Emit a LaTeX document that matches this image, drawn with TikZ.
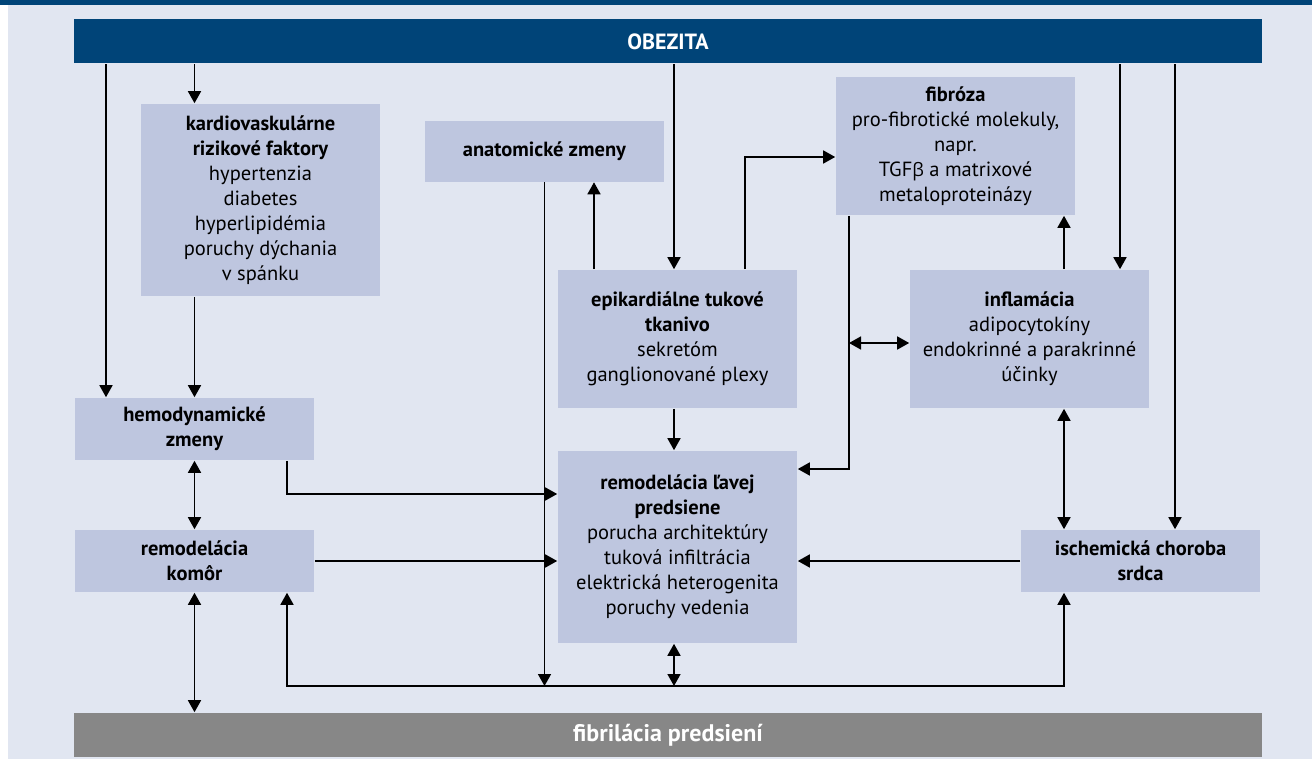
\documentclass[tikz,border=0pt]{standalone}
\usepackage{fontspec}
\setmainfont{PT Sans}
\newfontfamily\grfont{Open Sans}
\usepackage{tikz}
\usetikzlibrary{arrows.meta, positioning, calc}

\definecolor{obezblue}{HTML}{004478}
\definecolor{boxfill}{HTML}{BEC6DF}
\definecolor{panelbg}{HTML}{E1E6F1}
\definecolor{fibgray}{HTML}{878787}

\begin{document}
\begin{tikzpicture}[x=1pt,y=-1pt,>={Triangle[length=12pt,width=13pt]},line width=1.6pt,
	box/.style={fill=boxfill, minimum width=239pt, inner sep=0pt, align=center, font=\fontsize{20.5}{25}\selectfont},
	bar/.style={fill=#1, minimum width=1188pt, minimum height=44pt, inner sep=0pt, text=white, font=\fontsize{22}{25}\selectfont\bfseries}]
	\useasboundingbox (0,0) rectangle (1312,760);
	\fill[panelbg] (8,5) rectangle (1312,759);
	\fill[obezblue] (0,0) rectangle (1312,5);

	% bars
	\node[bar=obezblue] (obez) at (668,41.5) {OBEZITA};
	\node[bar=fibgray, font=\fontsize{24}{25}\selectfont\bfseries] (fibril) at (668,735) {fibrilácia predsiení};

	% boxes
	\node[box, minimum height=192pt] (kardio) at (260.5,200) {\textbf{kardiovaskulárne}\\ \textbf{rizikové faktory}\\ hypertenzia\\ diabetes\\ hyperlipidémia\\ poruchy dýchania\\ v spánku};
	\node[box, minimum height=61pt] (anat) at (544.5,151) {\textbf{anatomické zmeny}};
	\node[box, minimum height=138pt] (epi) at (677.5,339) {\textbf{epikardiálne tukové}\\ \textbf{tkanivo}\\ sekretóm\\ ganglionované plexy};
	\node[box, minimum height=138pt] (fib) at (955.5,146) {\textbf{fibróza}\\ pro-fibrotické molekuly,\\ napr.\\ TGF{\grfont\fontsize{18.5}{25}\selectfont β} a matrixové\\ metaloproteinázy};
	\node[box, minimum height=138pt] (infl) at (1029.5,339) {\textbf{inflamácia}\\ adipocytokíny\\ endokrinné a parakrinné\\ účinky};
	\node[box, minimum height=62pt] (hemo) at (194.5,429) {\textbf{hemodynamické}\\ \textbf{zmeny}};
	\node[box, minimum height=62pt] (komor) at (194.5,561) {\textbf{remodelácia}\\ \textbf{komôr}};
	\node[box, minimum height=192pt] (pred) at (677.5,547) {\textbf{remodelácia ľavej}\\ \textbf{predsiene}\\ porucha architektúry\\ tuková infiltrácia\\ elektrická heterogenita\\ poruchy vedenia};
	\node[box, minimum height=62pt] (isch) at (1140.5,561) {\textbf{ischemická choroba}\\ \textbf{srdca}};

	% columns and rows of the connectors
	\coordinate (cA) at (106,0);
	\coordinate (cC) at (287,0);
	\coordinate (cE) at (594,0);
	\coordinate (cF) at (674,0);
	\coordinate (cG) at (745,0);
	\coordinate (cH) at (849,0);
	\coordinate (cI) at (1064,0);
	\coordinate (cJ) at (1120,0);
	\coordinate (cK) at (1175,0);
	\coordinate (rA) at (0,157);
	\coordinate (rB) at (0,343);
	\coordinate (rC) at (0,469);
	\coordinate (rD) at (0,494);
	\coordinate (rF) at (0,686);

	% from OBEZITA
	\draw[->] (obez.south -| cA) -- (hemo.north -| cA);
	\draw[->] (obez.south -| hemo.north) -- (kardio.north -| hemo.north);
	\draw[->] (obez.south -| cF) -- (epi.north -| cF);
	\draw[->] (obez.south -| cJ) -- (infl.north -| cJ);
	\draw[->] (obez.south -| cK) -- (isch.north -| cK);

	% left column
	\draw[->] (kardio.south -| hemo.north) -- (hemo.north);
	\draw[<->] (hemo.south) -- (komor.north);
	\draw[<->] (komor.south) -- (fibril.north -| komor.south);
	\draw[->] (hemo.south -| cC) -- (cC |- rD) -- (pred.west |- rD);
	\draw[->] (komor.east) -- (pred.west |- komor.east);

	% middle
	\draw[->] (epi.north -| cE) -- (anat.south -| cE);
	\draw[->] (epi.north -| cG) -- (cG |- rA) -- (fib.west |- rA);
	\draw[->] (epi.south -| cF) -- (pred.north -| cF);
	\draw[->] (anat.south) -- (anat.south |- rF);
	\draw[<->] (pred.south -| cF) -- (cF |- rF);
	\draw[<->] (komor.south -| cC) -- (cC |- rF) -- (cI |- rF) -- (isch.south -| cI);

	% right side
	\draw[->] (fib.south -| cH) -- (cH |- rC) -- (pred.east |- rC);
	\draw[<->] (cH |- rB) -- (infl.west |- rB);
	\draw[->] (infl.north -| cI) -- (fib.south -| cI);
	\draw[<->] (infl.south -| cI) -- (isch.north -| cI);
	\draw[->] (isch.west) -- (pred.east |- isch.west);
\end{tikzpicture}
\end{document}
